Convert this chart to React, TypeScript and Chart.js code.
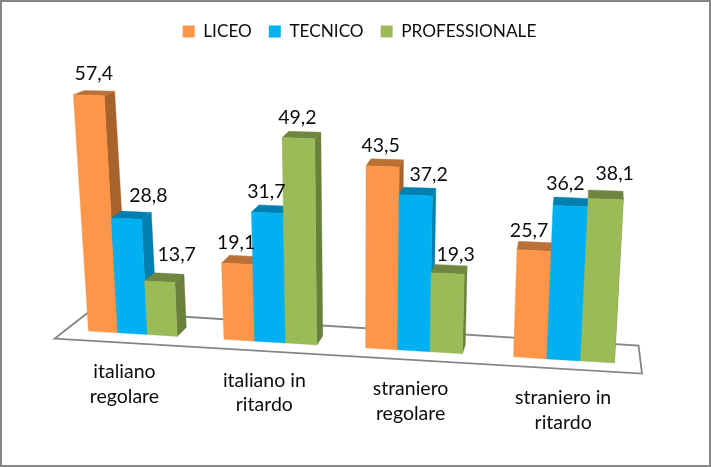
import React, { useEffect, useRef } from "react";
import { Chart, registerables } from "chart.js";

Chart.register(...registerables);

const categories = [
  ["italiano", "regolare"],
  ["italiano in", "ritardo"],
  ["straniero", "regolare"],
  ["straniero in", "ritardo"],
];
const liceo = [57.4, 19.1, 43.5, 25.7];
const tecnico = [28.8, 31.7, 37.2, 36.2];
const professionale = [13.7, 49.2, 19.3, 38.1];

const FONT = "Lato";
const TEXT = "#0c0c0c";
const styles = [
  { front: "#FD9648", side: "#A8622C", top: "#BB7035" },
  { front: "#00B0F0", side: "#0080AE", top: "#007FB0" },
  { front: "#9BBB59", side: "#697F3C", top: "#6E8640" },
];
// Hand placement of the value labels relative to each bar's top: [dx, dy] per series and category
const labelNudge = [
  [[5, -21], [-1, -21], [-2, -21], [-5, -20]],
  [[22, -23], [-1, -21], [13, -21], [-5, -22]],
  [[17, -27], [-1, -20], [8, -19], [9, -25]],
];

// Perspective view: t = category position (0..3), v = value, d = depth (front = 0, back = 1)
function project(t: number, v: number, d: number): [number, number] {
  const bx = 132.5 + 134.4 * t + 3.1 * t * t;
  const run = bx - 88;
  const by = 331 + run * 0.0608;
  const h = v * (3.83 + 0.0005 * run + 0.005 * v);
  const x = bx + (bx - 355) * h * (bx < 355 ? 0.00024 : 0.00021);
  const y = by - h;
  const ddx = 13 - 0.022 * bx;
  const ddy = 9 - h * 0.02 * (1 - run / 600);
  return [x + d * ddx, y - d * ddy];
}

function poly(ctx: CanvasRenderingContext2D, pts: [number, number][], fill: string) {
  ctx.beginPath();
  pts.forEach((p, i) => (i ? ctx.lineTo(p[0], p[1]) : ctx.moveTo(p[0], p[1])));
  ctx.closePath();
  ctx.fillStyle = fill;
  ctx.fill();
  ctx.strokeStyle = fill;
  ctx.lineWidth = 0.4;
  ctx.stroke();
}

const perspectiveBars = {
  id: "perspectiveBars",
  beforeDraw(chart: any) {
    const { ctx, width, height } = chart;
    ctx.save();
    ctx.fillStyle = "#fff";
    ctx.fillRect(0, 0, width, height);
    ctx.strokeStyle = "#868686";
    ctx.lineWidth = 2;
    ctx.strokeRect(1, 1, width - 2, height - 2);
    ctx.restore();
  },
  beforeDatasetsDraw(chart: any) {
    const { ctx, scales } = chart;
    const xs = scales.x;
    const ys = scales.y;
    const x0 = xs.getPixelForValue(0);
    const step = xs.getPixelForValue(1) - x0;
    const toT = (px: number) => (px - x0) / step;
    const tL = toT(chart.chartArea.left);
    const tR = toT(chart.chartArea.right);

    ctx.save();
    // floor
    ctx.beginPath();
    [project(tL, 0, -1), project(tR, 0, -1), project(tR, 0, 2.1), project(tL, 0, 2.1)].forEach((p, i) =>
      i ? ctx.lineTo(p[0], p[1]) : ctx.moveTo(p[0], p[1])
    );
    ctx.closePath();
    ctx.strokeStyle = "#858585";
    ctx.lineWidth = 1.8;
    ctx.stroke();

    // bars, left to right
    const marks: { i: number; s: number; el: any }[] = [];
    chart.data.datasets.forEach((_: any, s: number) => {
      chart.getDatasetMeta(s).data.forEach((el: any, i: number) => marks.push({ i, s, el }));
    });
    marks.forEach(({ s, el }) => {
      const a = toT(el.x - el.width / 2);
      const b = toT(el.x + el.width / 2);
      const v = ys.getValueForPixel(el.y);
      const st = styles[s];
      poly(ctx, [project(b, v, 0), project(b, v, 1), project(b, 0, 1), project(b, 0, 0)], st.side);
      poly(ctx, [project(a, v, 0), project(a, v, 1), project(b, v, 1), project(b, v, 0)], st.top);
      poly(ctx, [project(a, v, 0), project(b, v, 0), project(b, 0, 0), project(a, 0, 0)], st.front);
    });

    // value labels
    ctx.fillStyle = TEXT;
    ctx.textAlign = "center";
    ctx.textBaseline = "middle";
    ctx.font = `19.5px ${FONT}`;
    marks.forEach(({ i, s, el }) => {
      const c = toT(el.x);
      const value = chart.data.datasets[s].data[i];
      const p = project(c, value, 0);
      const n = labelNudge[s][i];
      ctx.fillText(value.toFixed(1).replace(".", ","), p[0] + n[0], p[1] + n[1]);
    });

    // category labels, stepping down with the floor
    categories.forEach((lines, i) => {
      const p = project(i, 0, -0.8);
      lines.forEach((line, k) => ctx.fillText(line, p[0], p[1] + 31 + k * 24.5));
    });
    ctx.restore();
    return false;
  },
};

export default function App() {
  const ref = useRef<HTMLCanvasElement>(null);
  useEffect(() => {
    document.body.style.margin = "0";
    const chart = new Chart(ref.current!, {
      type: "bar",
      data: {
        labels: categories,
        datasets: [
          { label: "LICEO", data: liceo, backgroundColor: styles[0].front },
          { label: "TECNICO", data: tecnico, backgroundColor: styles[1].front },
          { label: "PROFESSIONALE", data: professionale, backgroundColor: styles[2].front },
        ],
      },
      options: {
        responsive: false,
        devicePixelRatio: 1,
        animation: false,
        layout: { padding: { left: 30, right: 22, top: 6, bottom: 60 } },
        datasets: { bar: { categoryPercentage: 0.66, barPercentage: 1 } },
        scales: {
          x: { display: false },
          y: { display: false, min: 0, max: 60 },
        },
        plugins: {
          tooltip: { enabled: false },
          legend: {
            position: "top",
            labels: {
              boxWidth: 12,
              boxHeight: 12,
              padding: 17,
              color: TEXT,
              font: { family: FONT, size: 17.2 },
            },
          },
        },
      },
      plugins: [perspectiveBars],
    } as any);
    return () => chart.destroy();
  }, []);
  return <canvas ref={ref} width={711} height={467} style={{ display: "block", width: 711, height: 467 }} />;
}
